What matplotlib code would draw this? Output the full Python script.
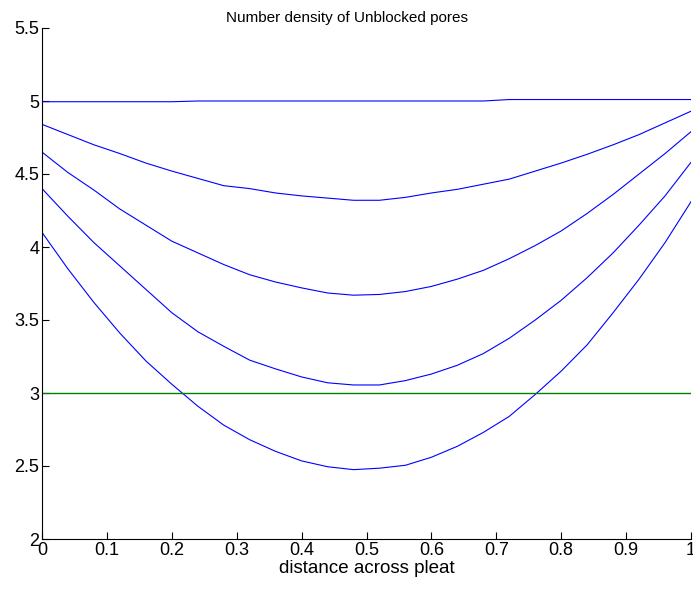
import matplotlib
matplotlib.use("Agg")
import matplotlib.pyplot as plt
import numpy as np

plt.rcParams["font.family"] = ["Liberation Sans", "DejaVu Sans"]

# distance across pleat
x = np.linspace(0, 1, 26)

# number density curves
n1 = [4.995, 4.995, 4.995, 4.995, 4.995, 4.995, 5.0, 5.0, 5.0, 5.0, 5.0, 5.0, 5.0,
      5.0, 5.0, 5.0, 5.0, 5.0, 5.01, 5.01, 5.01, 5.01, 5.01, 5.01, 5.01, 5.01]
n2 = [4.84, 4.77, 4.70, 4.64, 4.575, 4.52, 4.47, 4.42, 4.40, 4.37, 4.35, 4.335, 4.32,
      4.32, 4.34, 4.37, 4.395, 4.43, 4.465, 4.52, 4.575, 4.635, 4.70, 4.77, 4.85, 4.93]
n3 = [4.65, 4.51, 4.39, 4.26, 4.15, 4.04, 3.96, 3.88, 3.81, 3.76, 3.72, 3.685, 3.67,
      3.675, 3.695, 3.73, 3.78, 3.84, 3.92, 4.01, 4.11, 4.23, 4.36, 4.50, 4.64, 4.79]
n4 = [4.40, 4.21, 4.03, 3.87, 3.71, 3.55, 3.42, 3.32, 3.225, 3.165, 3.11, 3.07, 3.055,
      3.055, 3.085, 3.13, 3.19, 3.27, 3.375, 3.50, 3.635, 3.79, 3.96, 4.15, 4.35, 4.58]
n5 = [4.10, 3.85, 3.62, 3.41, 3.22, 3.06, 2.91, 2.78, 2.68, 2.60, 2.535, 2.495, 2.475,
      2.485, 2.505, 2.56, 2.635, 2.73, 2.84, 2.99, 3.15, 3.33, 3.55, 3.78, 4.03, 4.31]
threshold = 3.0

xticks = np.arange(0, 1.01, 0.1)
yticks = np.arange(2, 5.51, 0.5)

fig = plt.figure(figsize=(6.93, 5.90), dpi=100)
ax = fig.add_axes([42 / 693, 51 / 590, 649 / 693, 511 / 590])

for n in [n1, n2, n3, n4, n5]:
    ax.plot(x, n, color="#0000ff", lw=0.8)
ax.axhline(threshold, color="#008000", lw=1.0)

ax.set_xlim(0, 1)
ax.set_ylim(2, 5.5)
ax.set_xticks(xticks)
ax.set_xticklabels(["0", "0.1", "0.2", "0.3", "0.4", "0.5", "0.6", "0.7", "0.8", "0.9", "1"])
ax.set_yticks(yticks)
ax.set_yticklabels(["2", "2.5", "3", "3.5", "4", "4.5", "5", "5.5"])
ax.tick_params(direction="in", length=5, width=0.8, labelsize=13, pad=2)
ax.spines["top"].set_visible(False)
ax.spines["right"].set_visible(False)

# title sits a bit left of the axes centre in the original
ax.set_title("Number density of Unblocked pores", fontsize=11, pad=4, x=0.47)
ax.set_xlabel("distance across pleat", fontsize=13.5, labelpad=1)

fig.savefig("out.png", dpi=100)
